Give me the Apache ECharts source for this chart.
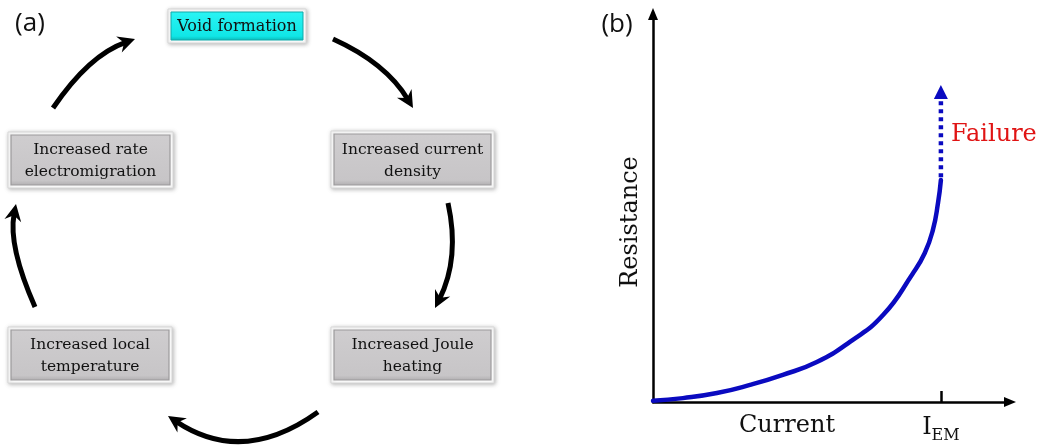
<!DOCTYPE html>
<html>
<head>
<meta charset="utf-8">
<script src="https://cdn.jsdelivr.net/npm/echarts@6/dist/echarts.min.js"></script>
<style>
  html, body { margin: 0; padding: 0; background: #ffffff; }
  #chart { width: 1042px; height: 446px; }
</style>
</head>
<body>
<div id="chart"></div>
<script>
// (a) feedback loop of electromigration, in the order the arrows run
const loopSteps = [
  'Void formation',
  'Increased current\ndensity',
  'Increased Joule\nheating',
  'Increased local\ntemperature',
  'Increased rate\nelectromigration'
];

// (b) resistance against current, arbitrary units (I_EM = 100)
const currentValues    = [0,   10.4, 22.2, 33.7, 45.1, 56.9, 68.4, 79.9, 90.3, 94.4, 97.2, 99.0, 100];
const resistanceValues = [0.3, 1.0,  2.3,  4.4,  7.0,  10.3, 15.5, 22.4, 33.2, 38.4, 44.3, 51.3, 57.2];
const failureCurrent = 100;
const failureResistance = [57.9, 78.0];
const failureArrowAt = 79.9;
const tickValues = [100];
const tickLabels = ['{i|I}{s|EM}'];

const SERIF = "'DejaVu Serif', 'Liberation Serif', serif";
const SANS = "'Open Sans', 'Noto Sans', sans-serif";
const BLUE = '#0A0AC0';

// ---- box layout for the loop: [x, y, w, h] ----
const boxLayout = [
  [168, 9, 138, 34],
  [331, 131, 163, 57],
  [331, 327, 163, 56],
  [8, 327, 164, 56],
  [8, 132, 165, 56]
];

// curved arrows leaving each box: [start, control, tip]
const arrowLayout = [
  [[333, 39], [386, 63], [413, 108]],
  [[448, 203], [460, 258], [435, 308]],
  [[318, 412], [243, 466], [168, 416]],
  [[35, 307], [8, 246], [16, 204]],
  [[53, 108], [89, 55], [135, 39]]
];

function boxGraphic(label, rect, highlight) {
  const [x, y, w, h] = rect;
  const inset = 3;
  return {
    type: 'group',
    children: [
      {
        type: 'rect',
        shape: { x: x, y: y, width: w, height: h },
        style: {
          fill: '#ffffff',
          stroke: '#d8d8d8',
          lineWidth: 1,
          shadowBlur: 4,
          shadowOffsetX: 1,
          shadowOffsetY: 1,
          shadowColor: 'rgba(0,0,0,0.28)'
        }
      },
      {
        type: 'rect',
        shape: { x: x + inset, y: y + inset, width: w - 2 * inset, height: h - 2 * inset },
        style: highlight ? {
          fill: {
            type: 'linear', x: 0, y: 0, x2: 0, y2: 1,
            colorStops: [
              { offset: 0, color: '#2AF4F4' },
              { offset: 0.85, color: '#10E6E6' },
              { offset: 1, color: '#0BB8B8' }
            ]
          },
          stroke: '#11A9A9',
          lineWidth: 1
        } : {
          fill: {
            type: 'linear', x: 0, y: 0, x2: 0, y2: 1,
            colorStops: [
              { offset: 0, color: '#CFCDCF' },
              { offset: 0.9, color: '#C7C5C7' },
              { offset: 1, color: '#B0AEB0' }
            ]
          },
          stroke: '#9C9A9C',
          lineWidth: 1.2
        }
      },
      {
        type: 'text',
        x: x + w / 2,
        y: y + h / 2 + 1,
        style: {
          text: label,
          align: 'center',
          verticalAlign: 'middle',
          font: (highlight ? '16px ' : '15.5px ') + SERIF,
          lineHeight: 22,
          fill: '#111111'
        }
      }
    ]
  };
}

function arrowGraphic(def) {
  const [s, c, t] = def;
  let dx = t[0] - c[0], dy = t[1] - c[1];
  const len = Math.hypot(dx, dy);
  dx /= len; dy /= len;
  const L = 17, W = 8.5;
  const nx = -dy, ny = dx;
  const bx = t[0] - dx * L, by = t[1] - dy * L;
  const notch = [t[0] - dx * L * 0.68, t[1] - dy * L * 0.68];
  const end = [t[0] - dx * 10, t[1] - dy * 10];
  return {
    type: 'group',
    children: [
      {
        type: 'bezierCurve',
        shape: { x1: s[0], y1: s[1], cpx1: c[0], cpy1: c[1], x2: end[0], y2: end[1] },
        style: { stroke: '#000000', lineWidth: 5, fill: 'none' }
      },
      {
        type: 'polygon',
        shape: {
          points: [
            [t[0], t[1]],
            [bx + nx * W, by + ny * W],
            notch,
            [bx - nx * W, by - ny * W]
          ]
        },
        style: { fill: '#000000' }
      }
    ]
  };
}

const graphics = [];
arrowLayout.forEach(a => graphics.push(arrowGraphic(a)));
loopSteps.forEach((label, i) => graphics.push(boxGraphic(label, boxLayout[i], i === 0)));

graphics.push(
  { type: 'text', x: 30, y: 24, style: { text: '(a)', align: 'center', verticalAlign: 'middle', font: '26px ' + SANS, fill: '#111' } },
  { type: 'text', x: 617, y: 25, style: { text: '(b)', align: 'center', verticalAlign: 'middle', font: '26px ' + SANS, fill: '#111' } },
  { type: 'text', x: 787, y: 426, style: { text: 'Current', align: 'center', verticalAlign: 'middle', font: '24px ' + SERIF, fill: '#111' } },
  { type: 'text', x: 631, y: 222, rotation: Math.PI / 2, style: { text: 'Resistance', align: 'center', verticalAlign: 'middle', font: '24px ' + SERIF, fill: '#111' } },
  { type: 'text', x: 951, y: 135, style: { text: 'Failure', align: 'left', verticalAlign: 'middle', font: '24px ' + SERIF, fill: '#E01414' } }
);

const chart = echarts.init(document.getElementById('chart'), null, { renderer: 'canvas' });

chart.setOption({
  backgroundColor: '#ffffff',
  animation: false,
  grid: { left: 653, top: 14, width: 357, height: 388 },
  xAxis: {
    type: 'value',
    min: 0,
    max: 124,
    splitLine: { show: false },
    axisLine: {
      onZero: false,
      symbol: ['none', 'triangle'],
      symbolSize: [10, 12],
      lineStyle: { color: '#000', width: 2.5 }
    },
    axisTick: {
      show: true,
      inside: true,
      length: 11,
      customValues: tickValues,
      lineStyle: { color: '#000', width: 2.5 }
    },
    axisLabel: {
      show: true,
      margin: 8,
      customValues: tickValues,
      formatter: (v) => tickLabels[tickValues.indexOf(v)] || '',
      rich: {
        i: { fontFamily: SERIF, fontSize: 24, color: '#111', lineHeight: 30, verticalAlign: 'bottom' },
        s: { fontFamily: SERIF, fontSize: 16, color: '#111', lineHeight: 20, verticalAlign: 'bottom', padding: [0, 0, -4, 0] }
      }
    }
  },
  yAxis: {
    type: 'value',
    min: 0,
    max: 100,
    splitLine: { show: false },
    axisLine: {
      onZero: false,
      symbol: ['none', 'triangle'],
      symbolSize: [10, 12],
      lineStyle: { color: '#000', width: 2.5 }
    },
    axisTick: { show: false },
    axisLabel: { show: false }
  },
  series: [
    {
      type: 'line',
      data: currentValues.map((x, i) => [x, resistanceValues[i]]),
      smooth: 0.5,
      symbol: 'none',
      lineStyle: { color: BLUE, width: 4.5, cap: 'round' },
      z: 3
    },
    {
      type: 'line',
      data: failureResistance.map(r => [failureCurrent, r]),
      symbol: 'none',
      lineStyle: { color: BLUE, width: 4.5, type: [4, 4], cap: 'butt' },
      z: 3
    },
    {
      type: 'scatter',
      data: [[failureCurrent, failureArrowAt]],
      symbol: 'triangle',
      symbolSize: [14, 14],
      itemStyle: { color: BLUE, opacity: 1 },
      z: 4
    }
  ],
  graphic: graphics
});
</script>
</body>
</html>
